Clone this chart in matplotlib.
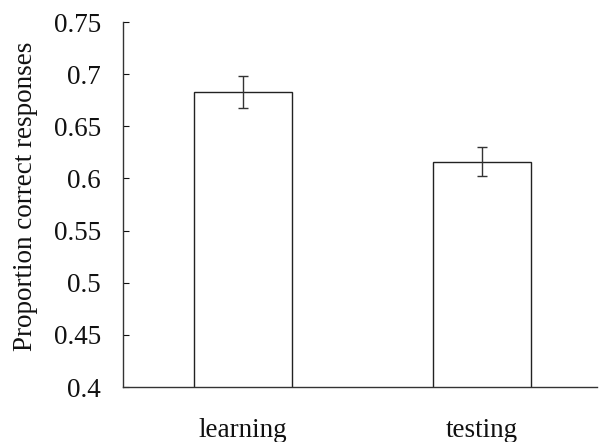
import matplotlib
matplotlib.use("Agg")
import matplotlib.pyplot as plt

categories = ["learning", "testing"]
values = [0.683, 0.616]
errors = [0.015, 0.014]
yticks = [0.4, 0.45, 0.5, 0.55, 0.6, 0.65, 0.7, 0.75]
ytick_labels = ["0.4", "0.45", "0.5", "0.55", "0.6", "0.65", "0.7", "0.75"]

plt.rcParams['font.family'] = ['Liberation Serif', 'DejaVu Serif']

fig = plt.figure(figsize=(5.99, 4.42), dpi=100)
ax = fig.add_axes([123/599, 1-387/442, (597-123)/599, (387-22)/442])

x = list(range(len(categories)))
ax.bar(x, values, width=0.41, color="white", edgecolor="#222222", linewidth=1.0, zorder=2)
ax.errorbar(x, values, yerr=errors, fmt="none", ecolor="#333333", elinewidth=1.0,
            capsize=3.3, capthick=1.0, zorder=3)

ax.set_ylim(0.4, 0.75)
ax.set_xlim(-0.5, 1.48)
ax.set_yticks(yticks)
ax.set_yticklabels(ytick_labels)
ax.set_xticks(x)
ax.set_xticklabels(categories)

ax.tick_params(axis="y", direction="in", length=4, width=0.8, pad=16, labelsize=19.5, colors="#111111")
ax.tick_params(axis="x", length=0, pad=22, labelsize=19.5, colors="#111111")

for s in ["top", "right"]:
    ax.spines[s].set_visible(False)
for s in ["left", "bottom"]:
    ax.spines[s].set_linewidth(1.0)
    ax.spines[s].set_color("#333333")

ax.set_ylabel("Proportion correct responses", fontsize=19.5, color="#111111",
              labelpad=11.5, y=0.522)

fig.savefig("out.png", dpi=100)
